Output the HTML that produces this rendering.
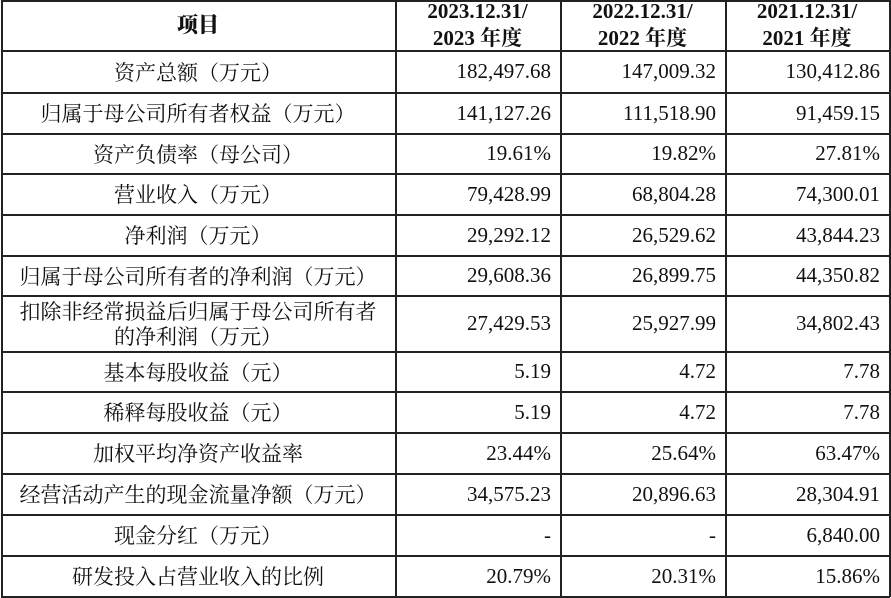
<!DOCTYPE html>
<html><head><meta charset="utf-8"><style>
body{margin:0;width:891px;height:598px;background:#fff;position:relative;overflow:hidden;font-family:"Liberation Serif","Noto Serif CJK SC",serif;color:#111}
.h{position:absolute;left:1px;width:889px;height:1.5px;background:#222}
.v{position:absolute;top:0;height:597px;width:1.5px;background:#222}
.c{position:absolute;display:flex;align-items:center;font-size:21px;line-height:24px;box-sizing:border-box}
.l{justify-content:center;text-align:center;font-size:21px;padding-top:4px;line-height:25px}
.r{justify-content:flex-end;padding-right:9px}
.b{font-weight:bold;justify-content:center;text-align:center;font-size:21px;line-height:27px}
</style></head><body>
<div id="g"></div>
<script>
var Y=[0,50,92,133,173,214,255,295,351,391,432,473,514,555,596];
var X=[1,395,560,725,889];
var H='';
Y.forEach(function(y){H+='<div class="h" style="top:'+y+'px"></div>'});
X.forEach(function(x){H+='<div class="v" style="left:'+x+'px"></div>'});
var rows=[
["<b>项目</b>","2023.12.31/<br>2023 年度","2022.12.31/<br>2022 年度","2021.12.31/<br>2021 年度"],
["资产总额（万元）","182,497.68","147,009.32","130,412.86"],
["归属于母公司所有者权益（万元）","141,127.26","111,518.90","91,459.15"],
["资产负债率（母公司）","19.61%","19.82%","27.81%"],
["营业收入（万元）","79,428.99","68,804.28","74,300.01"],
["净利润（万元）","29,292.12","26,529.62","43,844.23"],
["归属于母公司所有者的净利润（万元）","29,608.36","26,899.75","44,350.82"],
["扣除非经常损益后归属于母公司所有者<br>的净利润（万元）","27,429.53","25,927.99","34,802.43"],
["基本每股收益（元）","5.19","4.72","7.78"],
["稀释每股收益（元）","5.19","4.72","7.78"],
["加权平均净资产收益率","23.44%","25.64%","63.47%"],
["经营活动产生的现金流量净额（万元）","34,575.23","20,896.63","28,304.91"],
["现金分红（万元）","-","-","6,840.00"],
["研发投入占营业收入的比例","20.79%","20.31%","15.86%"]];
rows.forEach(function(r,i){
 for(var j=0;j<4;j++){
  var cls=i==0?'b':(j==0?'l':'r');
  H+='<div class="c '+cls+'" style="left:'+X[j]+'px;top:'+Y[i]+'px;width:'+(X[j+1]-X[j])+'px;height:'+(Y[i+1]-Y[i])+'px">'+r[j]+'</div>';
 }
});
document.getElementById('g').innerHTML=H;
</script>
</body></html>
